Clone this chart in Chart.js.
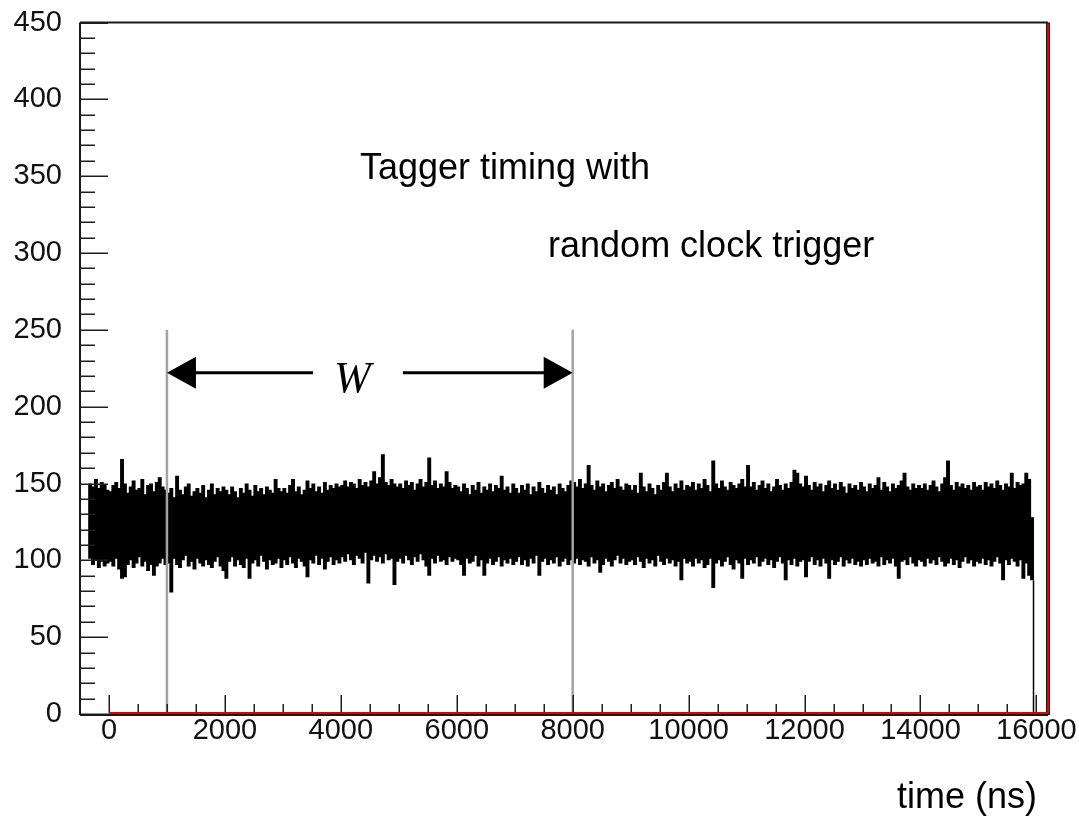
<!DOCTYPE html>
<html>
<head>
<meta charset="utf-8">
<script src="https://cdn.jsdelivr.net/npm/chart.js@4.4.0/dist/chart.umd.min.js"></script>
<style>
  html, body { margin: 0; padding: 0; background: #ffffff; }
  #wrap { width: 1079px; height: 817px; position: relative; }
</style>
</head>
<body>
<div id="wrap"><canvas id="c"></canvas></div>
<script>
// ---------------- DATA ----------------
// Histogram band: for each 50 ns group, the highest and lowest count seen
const binStart = -350;   // ns, left edge of first group
const binWidth = 50;     // ns per group

const binTops = [
  150,148,153,147,151,149,146,                                              // -350..0
  145,149,151,147,166,150,144,148,152,146,147,153,143,149,150,145,151,154,148,146, // 0..1000
  144,147,141,155,146,143,148,150,142,145,147,144,149,141,146,150,143,147,145,148, // 1000..2000
  146,143,148,145,141,147,144,150,146,142,149,145,147,143,148,146,144,153,147,145, // 2000..3000
  147,144,149,153,145,148,143,146,152,147,150,145,148,144,151,146,149,147,150,148, // 3000..4000
  149,152,148,151,150,147,153,149,151,148,152,158,150,154,169,151,149,153,150,148, // 4000..5000
  150,147,152,149,151,146,150,153,148,151,167,149,152,147,150,148,158,151,147,149, // 5000..6000
  148,145,150,147,143,149,146,151,144,148,146,150,145,149,147,155,146,148,144,150, // 6000..7000
  147,144,149,146,150,143,148,145,151,147,144,149,146,148,143,150,147,145,149,152, // 7000..8000
  151,148,153,147,150,162,149,146,152,148,150,145,149,151,147,153,148,146,150,149, // 8000..9000
  146,149,144,157,148,145,150,147,143,149,146,151,157,148,145,150,147,152,146,149, // 9000..10000
  148,151,146,150,147,153,149,145,165,150,147,152,148,146,151,149,147,150,153,148, // 10000..11000
  162,148,151,146,149,152,147,150,145,148,153,149,146,150,147,151,159,157,150,148, // 11000..12000
  155,149,146,151,148,150,145,149,152,147,150,146,151,148,144,150,147,149,146,151, // 12000..13000
  148,145,150,147,149,154,146,151,148,145,150,147,149,152,157,148,146,150,147,149, // 13000..14000
  147,150,146,149,152,148,145,150,154,165,149,146,151,148,150,147,149,146,151,148, // 14000..15000
  149,146,151,148,150,147,152,149,146,150,148,157,147,151,149,150,157,153,128      // 15000..15950
];

const binBottoms = [
  101,97,100,95,99,96,98,
  99,96,101,94,88,89,97,100,95,98,102,96,99,93,97,90,96,98,101,97,
  98,79,101,97,95,100,103,96,99,94,101,98,96,100,97,95,99,102,96,93,
  88,99,102,96,100,97,95,101,88,98,100,96,103,99,94,100,97,98,101,95,
  100,97,102,98,95,101,99,96,89,100,98,103,97,101,94,99,102,97,100,98,
  102,99,104,100,97,103,101,98,105,85,100,103,99,102,98,104,100,101,84,99,
  101,98,103,100,97,102,99,104,100,96,90,101,98,103,99,100,97,102,99,101,
  100,97,90,101,98,99,103,96,100,90,98,101,97,99,102,96,100,98,101,97,
  99,102,97,100,96,101,98,103,90,99,101,97,100,98,102,96,99,101,97,100,
  98,101,97,100,99,96,102,98,100,92,97,101,99,96,100,103,98,101,97,99,
  100,97,102,99,95,101,98,100,96,103,99,97,101,98,100,96,99,87,101,98,
  99,96,101,98,100,95,97,101,82,98,100,96,99,102,97,94,100,98,88,101,
  97,100,98,102,96,99,101,97,100,95,99,102,98,87,100,97,101,96,99,100,
  89,99,102,97,100,96,101,98,88,100,97,99,102,96,100,98,101,97,99,96,
  100,97,101,98,99,96,102,97,100,98,101,96,88,99,100,97,102,98,96,100,
  99,96,101,98,100,97,102,99,96,98,101,97,100,95,99,102,98,100,96,99,
  98,101,97,100,96,99,102,98,87,100,97,101,99,96,100,88,98,90,87
];

// Axes
const xRange = [-500, 16200];
const yRange = [0, 450];
const xTicks = [0, 2000, 4000, 6000, 8000, 10000, 12000, 14000, 16000];
const yTicks = [0, 50, 100, 150, 200, 250, 300, 350, 400, 450];
const xMinorStep = 500;
const yMinorStep = 10;
const xTitle = 'time (ns)';

// Window W marker (data units)
const windowEdges = [1000, 8000];
const windowHeight = 250;
const arrowLevel = 222;
const arrowGap = [3520, 5070];
const windowLabel = 'W';
const windowLabelPos = 4200;

// Annotation text (data units: left x, baseline y)
const noteLines = ['Tagger timing with', 'random clock trigger'];
const noteX = [4330, 7575];
const noteY = [348, 297.5];

// ---------------- BUILD ----------------
const bins = binTops.map((t, i) => ({ x: binStart + binWidth * (i + 0.5), y: [binBottoms[i], t] }));
const endX = binStart + binWidth * binTops.length;
const endDrop = [{ x: endX, y: binBottoms[binBottoms.length - 1] }, { x: endX, y: 0 }];

const FONT = '"Liberation Sans", Arial, Helvetica, sans-serif';

const overlay = {
  id: 'overlay',
  afterDatasetsDraw(chart) {
    const { ctx, chartArea: a, scales: { x, y } } = chart;
    ctx.save();

    // grey window lines
    ctx.strokeStyle = '#a3a3a3';
    ctx.lineWidth = 2.5;
    windowEdges.forEach(v => {
      const px = x.getPixelForValue(v);
      ctx.beginPath();
      ctx.moveTo(px, y.getPixelForValue(0));
      ctx.lineTo(px, y.getPixelForValue(windowHeight));
      ctx.stroke();
    });

    // double arrow
    const ay = y.getPixelForValue(arrowLevel);
    const l = x.getPixelForValue(windowEdges[0]);
    const r = x.getPixelForValue(windowEdges[1]);
    const gl = x.getPixelForValue(arrowGap[0]);
    const gr = x.getPixelForValue(arrowGap[1]);
    ctx.strokeStyle = '#000';
    ctx.fillStyle = '#000';
    ctx.lineWidth = 3;
    ctx.beginPath();
    ctx.moveTo(l + 20, ay); ctx.lineTo(gl, ay);
    ctx.moveTo(gr, ay); ctx.lineTo(r - 20, ay);
    ctx.stroke();
    ctx.beginPath();
    ctx.moveTo(l, ay); ctx.lineTo(l + 29, ay - 16); ctx.lineTo(l + 29, ay + 16); ctx.closePath();
    ctx.fill();
    ctx.beginPath();
    ctx.moveTo(r, ay); ctx.lineTo(r - 29, ay - 16); ctx.lineTo(r - 29, ay + 16); ctx.closePath();
    ctx.fill();

    ctx.font = 'italic 44px "Liberation Serif", "Times New Roman", serif';
    ctx.textAlign = 'center';
    ctx.textBaseline = 'alphabetic';
    ctx.fillText(windowLabel, x.getPixelForValue(windowLabelPos), ay + 19);

    // annotation text
    ctx.font = '36px ' + FONT;
    ctx.textAlign = 'left';
    noteLines.forEach((t, i) => {
      ctx.fillText(t, x.getPixelForValue(noteX[i]), y.getPixelForValue(noteY[i]));
    });

    // axis title
    ctx.textAlign = 'right';
    ctx.fillText(xTitle, a.right - 11, a.bottom + 94);

    // ticks (inside)
    ctx.strokeStyle = '#1e1e1e';
    ctx.lineWidth = 1.5;
    ctx.beginPath();
    for (let v = yRange[0]; v <= yRange[1]; v += yMinorStep) {
      const py = Math.round(y.getPixelForValue(v)) + 0.25;
      const len = (v % 50 === 0) ? 28 : 15;
      ctx.moveTo(a.left, py); ctx.lineTo(a.left + len, py);
    }
    for (let v = 0; v <= xRange[1]; v += xMinorStep) {
      const px = Math.round(x.getPixelForValue(v)) + 0.25;
      const len = (v % 2000 === 0) ? 19 : 10;
      ctx.moveTo(px, a.bottom); ctx.lineTo(px, a.bottom - len);
    }
    ctx.stroke();

    // frame
    ctx.strokeStyle = '#1a1a1a';
    ctx.lineWidth = 2;
    ctx.beginPath();
    ctx.moveTo(a.left, a.top); ctx.lineTo(a.right, a.top);
    ctx.moveTo(a.left, a.top); ctx.lineTo(a.left, a.bottom + 1);
    ctx.moveTo(a.left, a.bottom + 1); ctx.lineTo(a.right, a.bottom + 1);
    ctx.stroke();
    ctx.lineWidth = 4;
    ctx.beginPath();
    ctx.moveTo(a.right, a.top); ctx.lineTo(a.right, a.bottom + 1);
    ctx.stroke();
    ctx.strokeStyle = '#e00000';
    ctx.lineWidth = 2;
    ctx.beginPath();
    ctx.moveTo(x.getPixelForValue(0), a.bottom - 1); ctx.lineTo(a.right, a.bottom - 1);
    ctx.moveTo(a.right, a.bottom - 1); ctx.lineTo(a.right, a.top + 1);
    ctx.stroke();

    ctx.restore();
  }
};

new Chart(document.getElementById('c'), {
  data: {
    datasets: [
      {
        type: 'bar',
        data: bins,
        backgroundColor: '#000',
        borderWidth: 0,
        barPercentage: 1.35,
        categoryPercentage: 1,
        grouped: false
      },
      {
        type: 'line',
        data: endDrop,
        borderColor: '#000',
        borderWidth: 1.5,
        pointRadius: 0,
        fill: false
      }
    ]
  },
  options: {
    responsive: true,
    maintainAspectRatio: false,
    animation: false,
    events: [],
    layout: { padding: { top: 22.5, right: 31, left: 0, bottom: 0 } },
    plugins: { legend: { display: false }, tooltip: { enabled: false } },
    scales: {
      x: {
        type: 'linear',
        offset: false,
        min: xRange[0], max: xRange[1],
        grid: { display: false, drawTicks: false, offset: false },
        border: { display: false },
        afterBuildTicks: s => { s.ticks = xTicks.map(v => ({ value: v })); },
        afterFit: s => { s.height = 103; s.paddingLeft = 0; s.paddingRight = 0; },
        ticks: {
          autoSkip: false, maxRotation: 0, padding: 0,
          color: '#111',
          font: { family: FONT, size: 29 },
          callback: v => String(v)
        }
      },
      y: {
        type: 'linear',
        min: yRange[0], max: yRange[1],
        grid: { display: false, drawTicks: false },
        border: { display: false },
        afterBuildTicks: s => { s.ticks = yTicks.map(v => ({ value: v })); },
        afterFit: s => { s.width = 80; s.paddingTop = 0; s.paddingBottom = 0; },
        ticks: {
          autoSkip: false, padding: 18,
          color: '#111',
          font: { family: FONT, size: 29 },
          callback: v => String(v)
        }
      }
    }
  },
  plugins: [overlay]
});
</script>
</body>
</html>
